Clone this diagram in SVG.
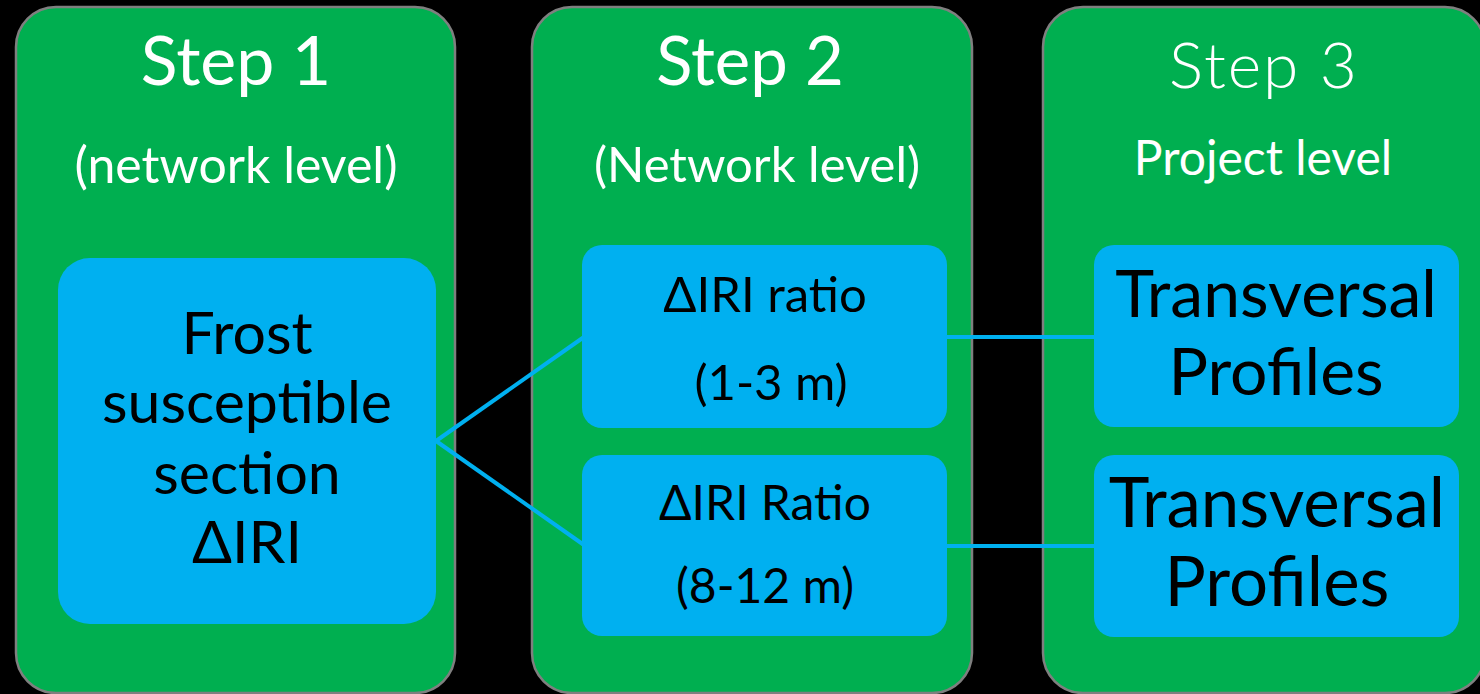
<svg xmlns="http://www.w3.org/2000/svg" width="1480" height="694" viewBox="0 0 1480 694">
<style>
.step{fill:#00AF50;stroke:#7F7F7F;stroke-width:2.5}
.blue{fill:#00B0F0}
.wt{fill:#FFFFFF;font-family:Lato,"Open Sans","Liberation Sans",sans-serif;text-anchor:middle}
.bt{fill:#000000;font-family:Lato,"Open Sans","Liberation Sans",sans-serif;text-anchor:middle}
.conn{stroke:#00B0F0;stroke-width:4;fill:none}
</style>
<rect x="0" y="0" width="1480" height="694" fill="#000000"/>
<g id="step1">
<rect class="step" x="16" y="7" width="439" height="686" rx="40"/>
<text class="wt" x="236" y="85" font-size="68">Step 1</text>
<text class="wt" x="236" y="183" font-size="50">(network level)</text>
</g>
<g id="step2">
<rect class="step" x="532" y="7" width="440" height="686" rx="40"/>
<text class="wt" x="750" y="85" font-size="67">Step 2</text>
<text class="wt" x="757" y="182" font-size="49">(Network level)</text>
</g>
<g id="step3">
<rect class="step" x="1043" y="7" width="442" height="686" rx="40"/>
<text class="wt" x="1264" y="88" font-size="64" font-weight="300" letter-spacing="2">Step 3</text>
<text class="wt" x="1263" y="175" font-size="48">Project level</text>
</g>
<g id="connectors">
<line class="conn" x1="436" y1="441" x2="584" y2="337"/>
<line class="conn" x1="436" y1="441" x2="584" y2="545"/>
<line class="conn" x1="945" y1="337" x2="1096" y2="337"/>
<line class="conn" x1="945" y1="546" x2="1096" y2="546"/>
</g>
<g id="frost">
<rect class="blue" x="58" y="258" width="378" height="366" rx="32"/>
<text class="bt" font-size="59"><tspan x="247" y="354">Frost</tspan><tspan x="247" y="423">susceptible</tspan><tspan x="247" y="494">section</tspan><tspan x="247" y="563">ΔIRI</tspan></text>
</g>
<g id="ratio1">
<rect class="blue" x="582" y="245" width="365" height="183" rx="20"/>
<text class="bt" x="765" y="312" font-size="49">ΔIRI ratio</text>
<text class="bt" x="771" y="400" font-size="49">(1-3 m)</text>
</g>
<g id="ratio2">
<rect class="blue" x="582" y="455" width="365" height="181" rx="20"/>
<text class="bt" x="765" y="520" font-size="48">ΔIRI Ratio</text>
<text class="bt" x="765" y="603" font-size="48">(8-12 m)</text>
</g>
<g id="profiles1">
<rect class="blue" x="1094" y="245" width="365" height="182" rx="20"/>
<text class="bt" font-size="66"><tspan x="1276" y="317">Transversal</tspan><tspan x="1276" y="395">Profiles</tspan></text>
</g>
<g id="profiles2">
<rect class="blue" x="1094" y="455" width="365" height="182" rx="20"/>
<text class="bt" font-size="69"><tspan x="1277" y="527">Transversal</tspan><tspan x="1277" y="606">Profiles</tspan></text>
</g>
</svg>
